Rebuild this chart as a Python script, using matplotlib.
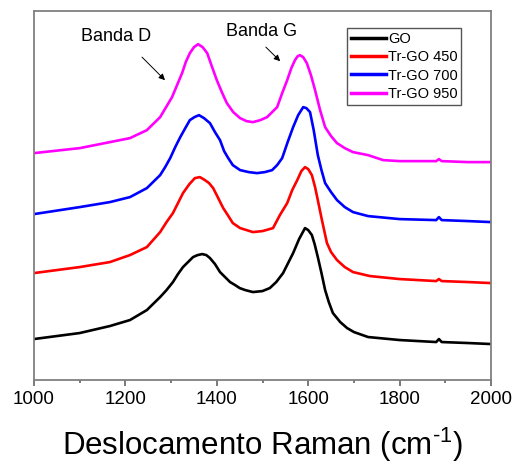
import matplotlib
matplotlib.use('Agg')
import matplotlib.pyplot as plt

plt.rcParams['font.family'] = ['Liberation Sans', 'DejaVu Sans']
plt.rcParams['mathtext.fontset'] = 'custom'
plt.rcParams['mathtext.rm'] = 'Liberation Sans'

# raman shift (cm-1) and intensity (a.u., already offset)
go_x = [1000, 1100, 1166, 1210, 1247, 1276, 1290, 1304, 1315, 1326, 1337, 1348, 1358, 1368, 1377, 1385,
        1396, 1407, 1418, 1429, 1440, 1450, 1462, 1479, 1500, 1516, 1530, 1545, 1567, 1580, 1593, 1600,
        1608, 1614, 1621, 1629, 1637, 1645, 1654, 1670, 1685, 1700, 1731, 1800, 1880, 1886, 1892, 1950, 2000]
go_y = [41, 47, 54, 60, 70, 83, 90, 98, 106, 113, 118, 123, 125, 126, 125, 122,
        116, 108, 103, 98, 95, 92, 90, 88, 89, 92, 98, 107, 127, 141, 152, 150,
        145, 136, 123, 107, 90, 78, 67, 58, 52, 48, 43, 40, 38, 41, 38, 37, 36]

tr450_x = [1000, 1100, 1166, 1210, 1247, 1276, 1290, 1304, 1315, 1326, 1340, 1352, 1363, 1374, 1383, 1392,
           1402, 1414, 1424, 1435, 1451, 1465, 1479, 1500, 1523, 1538, 1554, 1565, 1576, 1585, 1593, 1600,
           1608, 1615, 1621, 1630, 1641, 1650, 1663, 1680, 1698, 1735, 1800, 1880, 1886, 1892, 1950, 2000]
tr450_y = [107, 113, 118, 125, 133, 148, 158, 167, 177, 187, 196, 202, 203, 200, 197, 192,
           183, 172, 165, 157, 152, 150, 148, 149, 152, 165, 177, 190, 200, 209, 213, 211,
           205, 193, 180, 160, 137, 128, 120, 113, 108, 104, 101, 99, 101, 99, 98, 97]

tr700_x = [1000, 1100, 1166, 1210, 1247, 1276, 1287, 1298, 1309, 1320, 1331, 1341, 1351, 1361, 1372, 1385,
           1396, 1407, 1416, 1425, 1435, 1451, 1470, 1488, 1505, 1521, 1532, 1543, 1555, 1567, 1578, 1589,
           1596, 1604, 1612, 1621, 1629, 1637, 1650, 1663, 1680, 1698, 1731, 1800, 1880, 1886, 1892, 1950, 2000]
tr700_y = [166, 173, 178, 183, 192, 205, 213, 222, 233, 243, 252, 260, 263, 265, 262, 257,
           248, 240, 229, 222, 215, 210, 208, 207, 208, 210, 215, 222, 238, 253, 265, 273,
           272, 268, 250, 225, 210, 197, 188, 180, 173, 168, 164, 161, 160, 163, 160, 159, 158]

tr950_x = [1000, 1100, 1166, 1210, 1247, 1276, 1289, 1302, 1313, 1324, 1332, 1341, 1350, 1359, 1369, 1379,
           1389, 1400, 1411, 1422, 1436, 1451, 1465, 1479, 1495, 1510, 1521, 1532, 1543, 1554, 1563, 1571,
           1577, 1582, 1589, 1597, 1606, 1615, 1626, 1637, 1650, 1663, 1680, 1698, 1731, 1764, 1800, 1880,
           1886, 1892, 1950, 2000]
tr950_y = [227, 232, 238, 242, 250, 263, 273, 283, 295, 307, 318, 327, 333, 336, 333, 327,
           314, 300, 288, 277, 268, 262, 259, 258, 260, 263, 268, 273, 287, 300, 312, 320,
           324, 325, 323, 317, 305, 290, 270, 253, 244, 237, 232, 228, 225, 220, 219, 219,
           221, 219, 218, 218]

labels = ['GO', 'Tr-GO 450', 'Tr-GO 700', 'Tr-GO 950']
colors = ['black', 'red', 'blue', 'magenta']

fig = plt.figure(figsize=(5.16, 4.66), dpi=100)
ax = fig.add_axes([0.0659, 0.1845, 0.8857, 0.7915])

series = [(go_x, go_y), (tr450_x, tr450_y), (tr700_x, tr700_y), (tr950_x, tr950_y)]
for (xs, ys), lab, c in zip(series, labels, colors):
    ax.plot(xs, ys, color=c, linewidth=1.9, label=lab, solid_joinstyle='round')

ax.set_xlim(1000, 2000)
ax.set_ylim(0, 369)
ax.set_yticks([])
ax.set_xticks([1000, 1200, 1400, 1600, 1800, 2000])
ax.set_xticks([1100, 1300, 1500, 1700, 1900], minor=True)
ax.tick_params(axis='x', which='major', direction='out', length=4, width=1.1, color='#555555',
               labelsize=13.5, pad=4)
ax.tick_params(axis='x', which='minor', direction='out', length=2.5, width=1.1, color='#555555')
for sp in ax.spines.values():
    sp.set_color('#808080')
    sp.set_linewidth(1.3)

ax.set_xlabel('Deslocamento Raman (cm$^{\\text{-1}}$)', fontsize=22.5, labelpad=13)

# band labels + arrows
ax.text(1179, 344, 'Banda D', fontsize=13, ha='center', va='center')
ax.annotate('', xy=(1291, 298), xytext=(1232, 325),
            arrowprops=dict(arrowstyle='-|>', color='black', lw=0.7, mutation_scale=9))
ax.text(1499, 349, 'Banda G', fontsize=13, ha='center', va='center')
ax.annotate('', xy=(1543, 317), xytext=(1503, 335),
            arrowprops=dict(arrowstyle='-|>', color='black', lw=0.7, mutation_scale=9))

leg = ax.legend(loc='upper left', bbox_to_anchor=(0.685, 0.954), borderaxespad=0, fontsize=10.5,
                frameon=True, fancybox=False, edgecolor='#555555', framealpha=1,
                handlelength=2.4, handletextpad=0.15, labelspacing=0.3, borderpad=0.25)
leg.get_frame().set_linewidth(1.0)
for ln in leg.get_lines():
    ln.set_linewidth(2.5)

fig.savefig('out.png', dpi=100)
